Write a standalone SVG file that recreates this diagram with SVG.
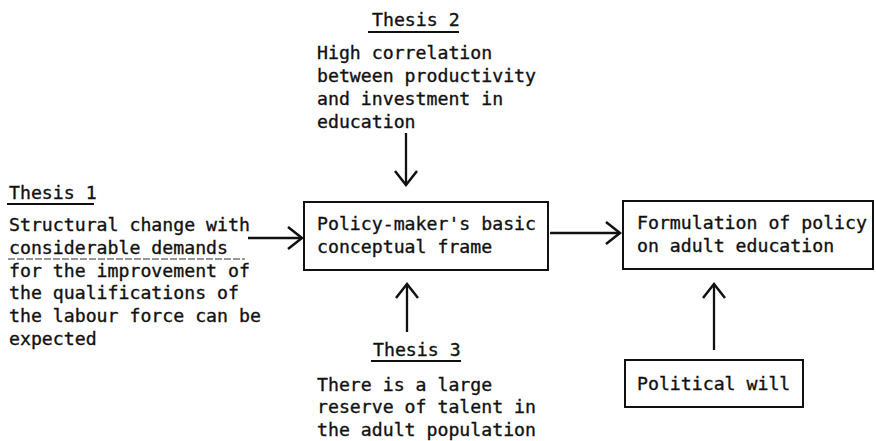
<svg xmlns="http://www.w3.org/2000/svg" width="876" height="441" viewBox="0 0 876 441">
  <style>
    text { font-family: "DejaVu Sans Mono", "Liberation Mono", monospace; font-size: 18.2px; fill: #111; stroke: #111; stroke-width: 0.35px; }
    .box { fill: none; stroke: #111; stroke-width: 2; }
    .ul { stroke: #111; stroke-width: 2; }
    .conn { stroke: #111; stroke-width: 2.3; fill: none; marker-end: url(#arr); }
    .faint { stroke: #333; stroke-width: 1.2; stroke-dasharray: 7 2; }
  </style>
  <defs>
    <marker id="arr" markerUnits="userSpaceOnUse" markerWidth="18" markerHeight="26" viewBox="0 0 18 26" refX="16" refY="13" orient="auto">
      <path d="M2,2 L16,13 L2,24" fill="none" stroke="#111" stroke-width="2.5"/>
    </marker>
  </defs>
  <rect width="876" height="441" fill="#fff"/>

  <g id="thesis2">
    <text x="372" y="26">Thesis 2</text>
    <line class="ul" x1="368" y1="32" x2="459" y2="32"/>
    <text x="317" y="59">High correlation</text>
    <text x="317" y="82">between productivity</text>
    <text x="317" y="105">and investment in</text>
    <text x="317" y="128">education</text>
  </g>

  <g id="thesis1">
    <text x="9" y="199">Thesis 1</text>
    <line class="ul" x1="7" y1="204" x2="94" y2="204"/>
    <text x="9" y="231">Structural change with</text>
    <text x="9" y="254">considerable demands</text>
    <line class="faint" x1="8" y1="259" x2="245" y2="259"/>
    <text x="9" y="277">for the improvement of</text>
    <text x="9" y="299">the qualifications of</text>
    <text x="9" y="322">the labour force can be</text>
    <text x="9" y="345">expected</text>
  </g>

  <g id="frame">
    <rect class="box" x="304" y="202" width="244" height="68"/>
    <text x="317" y="230">Policy-maker's basic</text>
    <text x="317" y="253">conceptual frame</text>
  </g>

  <g id="policy">
    <rect class="box" x="623" y="201" width="250" height="68"/>
    <text x="637" y="229">Formulation of policy</text>
    <text x="637" y="252">on adult education</text>
  </g>

  <g id="thesis3">
    <text x="373" y="356">Thesis 3</text>
    <line class="ul" x1="371" y1="361" x2="461" y2="361"/>
    <text x="317" y="391">There is a large</text>
    <text x="317" y="413">reserve of talent in</text>
    <text x="317" y="436">the adult population</text>
  </g>

  <g id="will">
    <rect class="box" x="625" y="360" width="178" height="47"/>
    <text x="637" y="390">Political will</text>
  </g>

  <g id="connectors">
    <line class="conn" x1="406" y1="133" x2="406" y2="185"/>
    <line class="conn" x1="248" y1="238" x2="302" y2="238"/>
    <line class="conn" x1="407" y1="332" x2="407" y2="284"/>
    <line class="conn" x1="550" y1="233" x2="620" y2="233"/>
    <line class="conn" x1="714" y1="350" x2="714" y2="284"/>
  </g>
</svg>
